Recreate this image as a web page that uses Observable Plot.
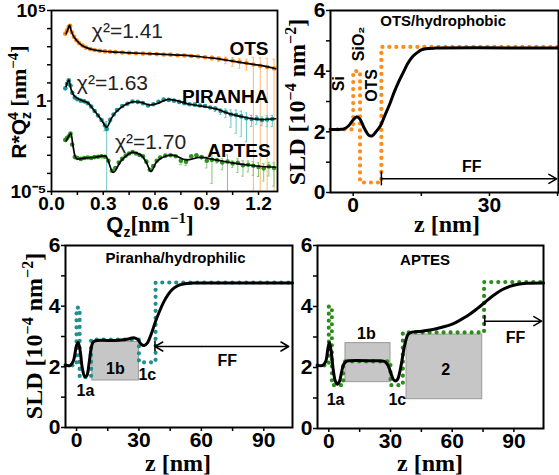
<!DOCTYPE html>
<html><head><meta charset="utf-8">
<script src="https://cdn.jsdelivr.net/npm/d3@7"></script>
<script src="https://cdn.jsdelivr.net/npm/@observablehq/plot@0.6"></script>
<style>
body{margin:0;background:#fff;}
#wrap{position:relative;width:559px;height:475px;overflow:hidden;background:#fff;}
.panel{position:absolute;}
.panel svg{overflow:visible;}
#overlay{position:absolute;left:0;top:0;}
</style></head><body><div id="wrap"></div>
<script>
// ---------- Reflectivity data (Q in nm^-1, log10 of R*Qz^4, relative error) ----------
const qOTS = [0.080,0.090,0.100,0.108,0.118,0.130,0.145,0.160,0.180,0.200,0.225,0.250,0.280,0.310,0.340,0.370,0.410,0.450,0.490,0.530,0.570,0.610,0.650,0.690,0.730,0.770,0.810,0.850,0.890,0.930,0.970,1.010,1.050,1.090,1.130,1.170,1.210,1.250,1.290];
const logOTS = [3.72,3.90,4.10,4.15,3.80,3.55,3.36,3.20,3.06,2.95,2.87,2.82,2.78,2.74,2.72,2.70,2.68,2.66,2.64,2.62,2.61,2.59,2.57,2.56,2.53,2.51,2.49,2.46,2.42,2.38,2.33,2.28,2.22,2.16,2.10,2.02,1.94,1.88,1.80];
const errOTS = [0.05,0.05,0.05,0.05,0.05,0.05,0.05,0.05,0.05,0.05,0.05,0.05,0.05,0.05,0.05,0.05,0.05,0.05,0.05,0.05,0.05,0.05,0.05,0.05,0.05,0.05,0.05,0.05,0.05,0.25,0.3,0.4,0.5,0.55,0.6,1.5,1.8,2.0,2.2];

const qPIR = [0.080,0.090,0.100,0.110,0.120,0.135,0.150,0.170,0.190,0.210,0.230,0.250,0.270,0.290,0.310,0.320,0.340,0.360,0.380,0.410,0.440,0.470,0.500,0.530,0.560,0.590,0.620,0.650,0.680,0.710,0.740,0.770,0.800,0.830,0.860,0.890,0.920,0.950,0.980,1.010,1.040,1.070,1.100,1.130,1.160,1.190,1.220,1.250,1.280];
const logPIR = [0.70,0.95,1.15,0.85,0.45,0.20,0.10,0.02,-0.02,-0.12,-0.30,-0.55,-0.80,-1.05,-1.35,-1.55,-1.05,-0.75,-0.50,-0.28,-0.15,-0.03,-0.05,-0.12,-0.25,-0.18,-0.05,0.08,0.06,0.02,-0.05,-0.12,-0.18,-0.20,-0.25,-0.28,-0.36,-0.42,-0.55,-0.62,-0.75,-0.78,-0.85,-0.95,-1.00,-0.98,-1.05,-1.02,-1.00];
const errPIR = [0.05,0.05,0.05,0.05,0.05,0.05,0.05,0.05,0.05,0.05,0.05,0.05,0.05,0.05,0.5,1.6,0.3,0.05,0.05,0.05,0.05,0.05,0.05,0.05,0.05,0.05,0.05,0.05,0.05,0.05,0.05,0.05,0.05,0.05,0.05,0.05,0.05,0.3,0.35,0.5,0.8,0.9,0.92,0.95,0.6,0.5,0.5,0.6,0.6];

const qAPT = [0.080,0.090,0.100,0.110,0.120,0.135,0.150,0.170,0.190,0.210,0.230,0.250,0.270,0.290,0.310,0.330,0.350,0.370,0.390,0.410,0.430,0.450,0.470,0.490,0.510,0.530,0.550,0.570,0.590,0.610,0.630,0.660,0.690,0.720,0.750,0.780,0.810,0.840,0.870,0.900,0.930,0.960,0.990,1.020,1.050,1.080,1.110,1.140,1.170,1.200,1.230,1.260,1.290];
const logAPT = [-2.15,-2.05,-1.95,-1.80,-2.40,-3.10,-3.15,-3.20,-3.15,-3.12,-3.15,-3.10,-3.08,-3.05,-3.08,-3.30,-3.85,-3.70,-3.40,-3.20,-3.02,-2.90,-2.82,-2.90,-2.98,-3.05,-3.35,-3.80,-3.60,-3.30,-3.12,-3.02,-3.00,-3.05,-3.30,-3.35,-3.05,-3.00,-3.10,-3.30,-3.25,-3.28,-3.40,-3.35,-3.45,-3.42,-3.55,-3.52,-3.58,-3.65,-3.72,-3.62,-3.70];
const errAPT = [0.1,0.1,0.1,0.1,0.1,0.1,0.1,0.1,0.1,0.1,0.1,0.1,0.1,0.1,0.1,0.1,0.1,0.1,0.1,0.1,0.1,0.1,0.1,0.1,0.1,0.1,0.1,0.1,0.1,0.1,0.1,0.1,0.1,0.1,0.4,0.4,0.1,0.1,0.2,0.6,0.95,0.3,0.6,1.3,0.4,0.7,0.75,0.6,0.7,0.7,0.8,0.7,0.9];

// fits (Q, log10)
const fitQOTS = [0.085,0.095,0.105,0.115,0.130,0.150,0.175,0.210,0.250,0.300,0.350,0.450,0.550,0.650,0.750,0.850,0.950,1.050,1.150,1.220,1.300];
const fitLogOTS = [3.72,3.95,4.20,3.85,3.55,3.30,3.08,2.92,2.82,2.75,2.71,2.66,2.62,2.58,2.53,2.46,2.35,2.20,2.05,1.95,1.78];
const fitQPIR = [0.085,0.100,0.115,0.135,0.170,0.210,0.250,0.290,0.320,0.345,0.370,0.420,0.470,0.520,0.570,0.610,0.670,0.720,0.800,0.880,0.960,1.030,1.120,1.200,1.300];
const fitLogPIR = [0.80,1.15,0.60,0.25,0.05,-0.10,-0.55,-1.05,-1.45,-1.00,-0.65,-0.25,-0.05,-0.08,-0.22,-0.15,0.08,0.03,-0.18,-0.30,-0.45,-0.70,-0.90,-1.02,-0.98];
const fitQAPT = [0.085,0.100,0.112,0.125,0.145,0.190,0.240,0.290,0.315,0.358,0.400,0.430,0.470,0.520,0.550,0.577,0.610,0.660,0.710,0.780,0.860,0.950,1.050,1.150,1.220,1.300];
const fitLogAPT = [-2.20,-1.95,-1.80,-2.50,-3.18,-3.16,-3.12,-3.05,-3.05,-3.95,-3.35,-3.05,-2.84,-3.00,-3.40,-3.90,-3.35,-3.05,-3.00,-3.25,-3.12,-3.25,-3.42,-3.55,-3.62,-3.66];

const seriesNames = ["OTS","PIRANHA","APTES"];
const chiLabels = ["χ²=1.41","χ²=1.63","χ²=1.70"];
const qTicks = [0,0.15,0.3,0.45,0.6,0.75,0.9,1.05,1.2];
const qTickLabels = ["0.0","","0.3","","0.6","","0.9","","1.2"];
const rTicks = [1e-5,1e-4,1e-3,1e-2,1e-1,1,1e1,1e2,1e3,1e4,1e5];
const rTickLabels = ["10⁻⁵","","","","","1","","","","","10⁵"];

// ---------- SLD profiles (z in nm, SLD in 1e-4 nm^-2) ----------
const zFitOTS = [-5,-3,-2,-1,0,0.8,1.5,2.5,3.5,4.2,5,6,7,8,9,10,11,12,13,14,15,16,18,45.2];
const sldFitOTS = [2.08,2.08,2.10,2.20,2.40,2.50,2.42,2.10,1.88,1.87,2.00,2.20,2.55,2.90,3.30,3.65,3.95,4.25,4.47,4.60,4.70,4.74,4.76,4.76];
const zStepOTS = [-5,0,0,1.5,1.5,6.2,6.2,45.2];
const sldStepOTS = [2.08,2.08,4.0,4.0,0.33,0.33,4.8,4.8];

const zFitPIR = [-5.3,-3,-1.5,0,0.8,1.8,2.8,4,5,6,7,8,10,15,20,25,27.5,29.5,31,32.5,34,36,38,40,42,44,46,48,50,53,56,103.8];
const sldFitPIR = [2.05,2.05,2.2,2.7,2.8,2.5,1.95,1.68,1.72,2.1,2.6,2.82,2.87,2.87,2.88,2.92,2.96,2.9,2.75,2.70,2.78,3.1,3.5,3.85,4.15,4.38,4.55,4.65,4.71,4.75,4.76,4.76];
const zStepPIR = [-5.3,0,0,1.5,1.5,7,7,30,30,38,38,103.8];
const sldStepPIR = [2.05,2.05,3.95,3.95,1.66,1.66,2.9,2.9,2.15,2.15,4.78,4.78];
const boxesPIR = {z1:[7.6], z2:[30], v1:[1.55], v2:[2.82]};

const zFitAPT = [-5.5,-3,-1.5,-0.5,0.3,1.2,2.2,3.2,4.2,5.2,6.2,7.2,8.5,10,20,27,28.5,29.5,30.5,31.5,32.5,33.5,34.5,35.5,36.5,37.5,38.5,40,45,50,55,60,64,68,72,76,80,84,88,92,96,104.4];
const sldFitAPT = [2.07,2.07,2.2,2.6,2.82,2.5,1.9,1.55,1.45,1.55,1.85,2.1,2.2,2.22,2.22,2.2,2.1,1.95,1.75,1.6,1.56,1.62,1.85,2.2,2.6,2.9,3.08,3.15,3.19,3.24,3.32,3.42,3.56,3.72,3.92,4.14,4.36,4.54,4.66,4.73,4.76,4.77];
const zStepAPT = [-5.5,0,0,1.5,1.5,7,7,30,30,36,36,75.5,75.5,104.4];
const sldStepAPT = [2.07,2.07,4.0,4.0,1.42,1.42,2.2,2.2,1.42,1.42,3.15,3.15,4.8,4.8];
const boxesAPT = {z1:[8.1,37.8], z2:[30,74.6], v1:[1.52,0.96], v2:[2.8,3.08]};

const zTicks = [0,15,30,45,60,75,90];
const zTickLabels = ["0","","30","","60","","90"];
const sldTicks = [0,1,2,3,4,5,6];
const sldTickLabels = ["0","","2","","4","","6"];

// ---------- helpers ----------
const SANS = "'Liberation Sans', Arial, sans-serif";
const SERIF = "'Liberation Serif', 'Times New Roman', serif";
const wrap = document.getElementById("wrap");
function place(svg, left, top, size){
  const d=document.createElement("div");d.className="panel";d.style.left=left+"px";d.style.top=top+"px";d.appendChild(svg);wrap.appendChild(d);
  d3.select(svg).selectAll('g[aria-label$="tick label"] text, g[aria-label$="tick label"]')
    .style("font-weight","bold").style("font-size",size+"px").style("font-family",SANS).attr("fill","black");
}
const fmt = (ticks, labels) => { const m = new Map(ticks.map((t,i)=>[t,labels[i]])); return d => m.get(d) ?? ""; };
const pts = (q, lg, e) => q.map((x,i)=>{const r=10**lg[i];const lo=r*(1-e[i]);return {q:x,r,e:e[i],lo: lo>1e-7?lo:1e-7,hi:r*(1+e[i])};});
const line = (q, lg) => q.map((x,i)=>({q:x,r:10**lg[i]}));
const zv = (z, v) => z.map((x,i)=>({z:x,v:v[i]}));
const boxes = b => b.z1.map((x,i)=>({z1:x,z2:b.z2[i],v1:b.v1[i],v2:b.v2[i]}));
const axisText = size => ({fontSize:size, fontWeight:"bold", fontFamily:SANS, fill:"black"});

// ---------- Panel 1: reflectivity ----------
const colOTS = "#ff8a1c", colPIR = "#1f9494", colAPT = "#2e8f22";
const eOTS = "#ffb870", ePIR = "#6cc6c6", eAPT = "#80c878";
const dOTS = pts(qOTS, logOTS, errOTS), dPIR = pts(qPIR, logPIR, errPIR), dAPT = pts(qAPT, logAPT, errAPT);
const seriesLabelPos = [{q:1.258,r:10**2.87},{q:1.258,r:10**0.22},{q:1.27,r:10**-2.73}];
const chiPos = [{q:0.234,r:10**3.84},{q:0.147,r:10**0.97},{q:0.368,r:10**-2.27}];

function errMarks(d, c){
  const big = d.filter(p=>p.e>=0.2);
  return [
    Plot.ruleX(d, {x:"q", y1:"lo", y2:"hi", stroke:c, strokeWidth:1, clip:true}),
    Plot.ruleY(big, {y:"hi", x1:p=>p.q-0.007, x2:p=>p.q+0.007, stroke:c, strokeWidth:1, clip:true}),
    Plot.ruleY(big.filter(p=>p.e<1), {y:"lo", x1:p=>p.q-0.007, x2:p=>p.q+0.007, stroke:c, strokeWidth:1, clip:true})
  ];
}
const p1 = Plot.plot({
  width:280, height:232, marginLeft:51, marginRight:3, marginTop:10, marginBottom:41,
  style:{fontFamily:SANS, fontWeight:"bold", fontSize:"19px", background:"transparent", color:"black", overflow:"visible"},
  x:{domain:[0,1.31]},
  y:{type:"log", domain:[1e-5,1e5]},
  marks:[
    ...errMarks(dOTS,eOTS), ...errMarks(dPIR,ePIR), ...errMarks(dAPT,eAPT),
    Plot.dot(dOTS,{x:"q",y:"r",r:2.3,fill:colOTS,clip:true}),
    Plot.dot(dPIR,{x:"q",y:"r",r:2.3,fill:colPIR,clip:true}),
    Plot.dot(dAPT,{x:"q",y:"r",r:2.3,fill:colAPT,clip:true}),
    Plot.line(line(fitQOTS,fitLogOTS),{x:"q",y:"r",stroke:"black",strokeWidth:1.7,curve:"catmull-rom"}),
    Plot.line(line(fitQPIR,fitLogPIR),{x:"q",y:"r",stroke:"black",strokeWidth:1.7,curve:"catmull-rom"}),
    Plot.line(line(fitQAPT,fitLogAPT),{x:"q",y:"r",stroke:"black",strokeWidth:1.7,curve:"catmull-rom"}),
    Plot.text(seriesLabelPos.map((p,i)=>({...p,t:seriesNames[i]})),{x:"q",y:"r",text:"t",textAnchor:"end",fontSize:19,fontWeight:"bold",fontFamily:SANS,fill:"black"}),
    Plot.text(chiPos.map((p,i)=>({...p,t:chiLabels[i]})),{x:"q",y:"r",text:"t",textAnchor:"start",fontSize:21,fontWeight:"normal",fontFamily:SANS,fill:"#222"}),
    Plot.frame({stroke:"black",strokeWidth:1.8}),
    Plot.axisX({ticks:qTicks, tickFormat:fmt(qTicks,qTickLabels), tickSize:4, tickPadding:1, strokeWidth:1.5, label:null, ...axisText(19)}),
    Plot.axisY({ticks:rTicks, tickFormat:fmt(rTicks,rTickLabels), tickSize:4, tickPadding:1, strokeWidth:1.5, label:null, ...axisText(19)})
  ]
});
place(p1, 0, 0, 19);

// ---------- SLD panels ----------
function sldPanel(o){
  return Plot.plot({
    width:o.w, height:o.h, marginLeft:o.ml, marginRight:o.mr, marginTop:o.mt, marginBottom:o.mb,
    style:{fontFamily:SANS, fontWeight:"bold", fontSize:"21px", background:"transparent", color:"black", overflow:"visible"},
    x:{domain:o.xd}, y:{domain:[0,6]},
    marks:[
      Plot.rect(o.boxes||[],{x1:"z1",x2:"z2",y1:"v1",y2:"v2",fill:"#c6c6c6",stroke:"#9a9a9a",strokeWidth:1}),
      Plot.line(o.step,{x:"z",y:"v",stroke:o.color,strokeWidth:4.2,strokeDasharray:"0 7",strokeLinecap:"round",strokeLinejoin:"round"}),
      Plot.line(o.fit,{x:"z",y:"v",stroke:"black",strokeWidth:3,curve:"catmull-rom"}),
      Plot.arrow(o.arrows,{x1:"z1",x2:"z2",y1:"v",y2:"v",stroke:"black",strokeWidth:1.5,headLength:9}),
      Plot.ruleX(o.ticksAt||[],{x:"z",y1:"v1",y2:"v2",stroke:"black",strokeWidth:1.5}),
      Plot.text(o.labels,{x:"z",y:"v",text:"t",rotate:d=>d.rot||0,fontSize:d=>d.fs||16,fontWeight:"bold",fontFamily:SANS,fill:"black"}),
      Plot.frame({stroke:"black",strokeWidth:2}),
      Plot.axisX({ticks:o.xt, tickFormat:fmt(zTicks,zTickLabels), tickSize:4, tickPadding:1, strokeWidth:1.5, label:null, ...axisText(21)}),
      Plot.axisY({ticks:sldTicks, tickFormat:fmt(sldTicks,sldTickLabels), tickSize:4, tickPadding:1, strokeWidth:1.5, label:null, ...axisText(21)})
    ]
  });
}
const p2 = sldPanel({w:279,h:232,ml:50,mr:1,mt:10,mb:40,xd:[-5,45.2],xt:[0,15,30,45],color:"#ff8c1a",
  step:zv(zStepOTS,sldStepOTS), fit:zv(zFitOTS,sldFitOTS),
  arrows:[{z1:6.2,z2:44.8,v:0.45}], ticksAt:[{z:6.2,v1:0.22,v2:0.68}],
  labels:[{z:19.8,v:5.64,t:"OTS/hydrophobic",fs:15},{z:-3.2,v:3.59,t:"Si",rot:-90,fs:16},{z:1.2,v:4.9,t:"SiO₂",rot:-90,fs:16},{z:4.2,v:3.53,t:"OTS",rot:-90,fs:16},{z:26.1,v:0.83,t:"FF",fs:16}]});
place(p2, 280, 0, 21);

const p3 = sldPanel({w:300,h:243,ml:65,mr:8,mt:13,mb:48,xd:[-5.3,103.8],xt:zTicks,color:"#1f8f8f",
  boxes:boxes(boxesPIR), step:zv(zStepPIR,sldStepPIR), fit:zv(zFitPIR,sldFitPIR),
  arrows:[{z1:60,z2:37.7,v:2.67},{z1:60,z2:102,v:2.67}], ticksAt:[{z:37.7,v1:2.5,v2:2.84}],
  labels:[{z:47.6,v:5.59,t:"Piranha/hydrophilic",fs:15},{z:4.3,v:1.22,t:"1a"},{z:18.7,v:1.94,t:"1b"},{z:34,v:1.75,t:"1c"},{z:72.4,v:2.21,t:"FF"}]});
place(p3, 0, 232, 21);

const p4 = sldPanel({w:259,h:243,ml:17,mr:16,mt:13,mb:47,xd:[-5.5,104.4],xt:zTicks,color:"#2e8b1e",
  boxes:boxes(boxesAPT), step:zv(zStepAPT,sldStepAPT), fit:zv(zFitAPT,sldFitAPT),
  arrows:[{z1:75.8,z2:103.5,v:3.52}], ticksAt:[{z:75.8,v1:3.35,v2:3.7}],
  labels:[{z:46.8,v:5.53,t:"APTES",fs:15},{z:18.3,v:3.11,t:"1b"},{z:3.3,v:0.93,t:"1a"},{z:33.3,v:0.93,t:"1c"},{z:56.8,v:1.93,t:"2"},{z:90.8,v:2.98,t:"FF"}]});
place(p4, 300, 232, 21);

// ---------- axis titles (overlay) ----------
const ov = d3.select(wrap).append("svg").attr("id","overlay").attr("width",559).attr("height",475);
function title(x,y,rot,parts){
  const t = ov.append("text").attr("transform",`translate(${x},${y}) rotate(${rot})`).attr("text-anchor","middle").attr("font-weight","bold").attr("fill","black");
  parts.forEach(p=>t.append("tspan").attr("font-family",p.f).attr("font-size",p.s).attr("dx",p.dx||0).attr("dy",p.dy||0).text(p.t));
}
title(26,102,-90,[{t:"R*Q",f:SANS,s:21},{t:"z",f:SANS,s:14,dy:5},{t:"4",f:SANS,s:14,dx:-8,dy:-13},{t:" [nm",f:SERIF,s:22,dy:8},{t:"−4",f:SERIF,s:15,dy:-8},{t:"]",f:SERIF,s:22,dy:8}]);
title(150,232,0,[{t:"Q",f:SANS,s:22},{t:"z",f:SANS,s:14,dy:5},{t:"[nm",f:SERIF,s:23,dy:-5},{t:"−1",f:SERIF,s:15,dy:-9},{t:"]",f:SERIF,s:23,dy:9}]);
const sldParts = [{t:"SLD [10",f:SERIF,s:24},{t:"−4",f:SERIF,s:16,dy:-9},{t:" nm",f:SERIF,s:24,dy:9},{t:"−2",f:SERIF,s:16,dy:-9},{t:"]",f:SERIF,s:24,dy:9}];
title(305,102,-90,sldParts);
title(42,336,-90,sldParts);
const zParts = [{t:"z [nm]",f:SERIF,s:24}];
title(447,232,0,zParts);
title(178,471,0,zParts);
title(430,471,0,zParts);
</script></body></html>
